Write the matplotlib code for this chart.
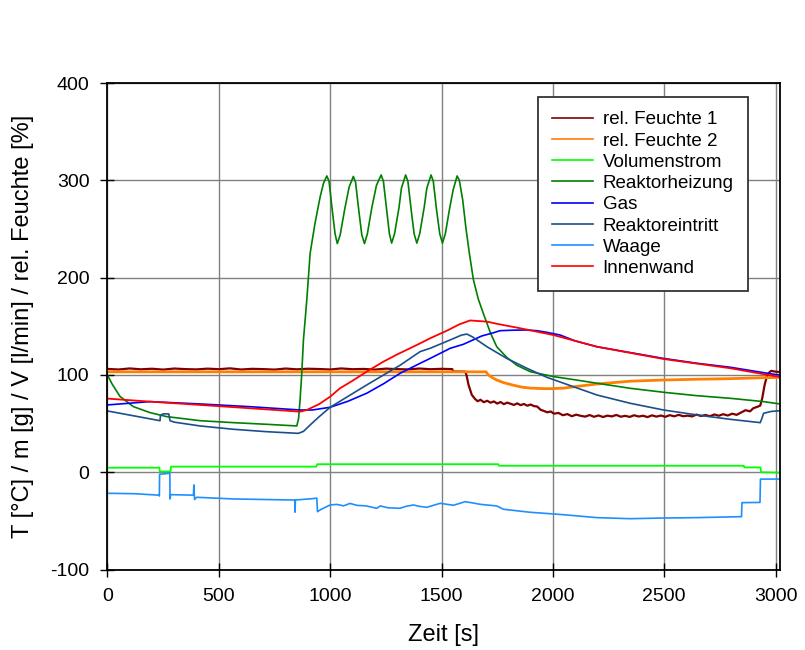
import matplotlib.pyplot as plt

plt.rcParams['font.family'] = ['Liberation Sans', 'DejaVu Sans']
plt.rcParams['axes.unicode_minus'] = False

# rel. Feuchte 1 [%]
t_rf1 = [0, 50, 100, 150, 200, 250, 300, 350, 400, 450, 500, 550, 600, 650, 700, 750,
         800, 850, 900, 950, 1000, 1050, 1100, 1150, 1200, 1250, 1300, 1350, 1400, 1450,
         1500, 1548, 1552, 1606, 1612, 1621, 1636, 1650, 1662, 1675, 1690, 1705, 1720, 1735,
         1750, 1765, 1780, 1795, 1810, 1825, 1840, 1855, 1870, 1885, 1900, 1915, 1930, 1945,
         1960, 1975, 1990, 2005, 2025, 2045, 2065, 2085, 2105, 2125, 2145, 2165, 2185, 2205,
         2225, 2245, 2265, 2285, 2305, 2325, 2345, 2365, 2385, 2405, 2425, 2445, 2465, 2485,
         2505, 2525, 2545, 2565, 2585, 2605, 2625, 2645, 2665, 2685, 2705, 2725, 2745, 2765,
         2785, 2805, 2825, 2845, 2865, 2885, 2900, 2915, 2931, 2940, 2950, 2960, 2969, 2980,
         3000, 3020]
rf1 = [106.2, 105.6, 106.7, 105.8, 106.4, 105.5, 106.6, 106.0, 105.7, 106.5, 105.9, 106.8,
       105.6, 106.3, 106.0, 105.5, 106.6, 105.8, 106.4, 106.1, 105.6, 106.7, 105.9, 106.2,
       105.5, 106.5, 106.0, 105.7, 106.6, 105.9, 106.3, 106.0, 103.6, 103.4, 100.0, 90.0,
       79.5, 75.5, 73.0, 74.5, 72.0, 73.5, 71.5, 72.8, 70.6, 72.2, 70.0, 71.6, 70.4, 69.2,
       70.8, 69.0, 70.2, 68.4, 69.6, 68.0, 67.5, 64.2, 63.0, 61.6, 62.5, 60.2, 61.0, 58.6,
       59.8, 57.6, 59.2, 58.0, 57.2, 58.8, 57.0, 58.4, 56.8, 58.2, 57.4, 58.9, 57.1, 58.0,
       56.9, 58.6, 57.3, 58.1, 56.7, 58.5, 57.2, 58.3, 57.0, 58.7, 57.5, 59.0, 57.6, 58.2,
       57.4, 59.3, 57.8, 58.9, 57.6, 59.4, 58.1, 59.7, 58.3, 60.2, 59.0, 61.4, 63.8, 62.6,
       65.8, 67.0, 68.5, 76.0, 89.0, 98.0, 102.0, 104.2, 103.4, 103.0]

# rel. Feuchte 2 [%]
t_rf2 = [0, 1700, 1710, 1730, 1748, 1780, 1822, 1860, 1900, 1950, 1990, 2050, 2100, 2198,
         2347, 2497, 2647, 2797, 2946, 3020]
rf2 = [103.2, 103.2, 100.0, 97.0, 94.8, 92.0, 89.5, 87.5, 86.5, 86.0, 85.9, 86.5, 88.0,
       90.7, 93.6, 94.8, 95.6, 96.2, 97.2, 97.5]

# Volumenstrom [l/min]
t_vol = [0, 233, 235, 283, 285, 938, 942, 1755, 1758, 2857, 2860, 2932, 2935, 3020]
vol = [4.7, 4.7, 0.8, 0.8, 5.8, 5.8, 8.3, 8.3, 6.7, 6.7, 5.0, 5.0, 0.0, -0.4]

# Reaktorheizung [°C]
t_heiz = [0, 20, 56, 116, 191, 266, 416, 565, 715, 850, 858, 865, 872, 880, 895, 910,
          932, 955, 970, 985, 995, 1010, 1022, 1032, 1045, 1065, 1085, 1104, 1114, 1129,
          1142, 1154, 1167, 1187, 1208, 1229, 1239, 1254, 1266, 1276, 1289, 1309, 1320,
          1339, 1349, 1364, 1377, 1389, 1402, 1422, 1434, 1453, 1463, 1478, 1492, 1504,
          1517, 1537, 1552, 1570, 1580, 1595, 1610, 1625, 1643, 1665, 1688, 1720, 1748,
          1793, 1838, 1898, 2003, 2100, 2198, 2347, 2497, 2647, 2797, 2946, 3020]
heiz = [100, 91, 78, 67.5, 61.3, 57.2, 53.0, 51.0, 49.3, 47.6, 55, 75, 100, 136, 177, 225,
        256, 283, 297, 304.5, 299, 268, 245, 235, 244, 270, 293, 304, 298, 268, 244, 235,
        245, 272, 295, 305.5, 299, 269, 245, 235.5, 245, 272, 292, 305.5, 299, 269, 245,
        235.5, 245, 272, 292, 305.5, 299, 269, 245, 235.5, 245, 272, 290, 304.5, 300, 280,
        250, 225, 198, 178, 163, 143, 129, 118, 110, 103.4, 98.3, 95, 91.5, 86.3, 82.2, 78.7,
        76.0, 72.6, 70.2]

# Gas [°C]
t_gas = [0, 191, 416, 640, 865, 920, 1000, 1080, 1164, 1240, 1314, 1404, 1449, 1539, 1598,
         1680, 1735, 1763, 1822, 1883, 1928, 1973, 2033, 2100, 2198, 2347, 2497, 2647, 2797,
         2991, 3020]
gas = [69.2, 72.6, 70.2, 67.4, 64.0, 64.0, 66.8, 73.0, 81.2, 91.0, 101.7, 112.0, 117.0,
       127.4, 131.5, 140.0, 143.5, 145.5, 146.0, 146.2, 145.5, 143.8, 141.0, 135.0, 129.0,
       123.0, 117.0, 112.0, 107.9, 100.7, 100.0]

# Reaktoreintritt [°C]
t_ein = [0, 236, 238, 250, 275, 281, 300, 416, 565, 715, 857, 880, 910, 950, 1000, 1080,
         1164, 1240, 1314, 1404, 1449, 1539, 1590, 1614, 1640, 1704, 1793, 1883, 1973, 2048,
         2198, 2347, 2497, 2647, 2797, 2931, 2938, 2946, 2980, 3020]
ein = [63.0, 53.0, 58.5, 60.0, 60.0, 53.0, 51.5, 47.6, 44.2, 41.7, 40.0, 42.0, 48.6, 57.0,
       66.8, 78.0, 89.7, 100.0, 110.0, 124.0, 127.4, 136.0, 141.0, 142.0, 139.0, 129.0,
       117.0, 106.9, 97.6, 91.5, 79.4, 70.9, 64.0, 58.9, 54.4, 51.0, 55.0, 60.6, 62.5, 63.3]

# Waage [g]
t_waage = [0, 120, 230, 233, 234, 250, 280, 281, 284, 386, 388, 391, 400, 565, 835, 841,
           842, 844, 925, 940, 943, 960, 1000, 1030, 1060, 1089, 1120, 1160, 1209, 1225,
           1260, 1314, 1340, 1374, 1400, 1434, 1494, 1554, 1606, 1640, 1673, 1748, 1778,
           1898, 2048, 2198, 2347, 2497, 2647, 2847, 2849, 2930, 2932, 3020]
waage = [-21.6, -22.0, -23.5, -24.4, -2.0, -1.7, -1.0, -27.5, -23.0, -23.5, -13.0, -28.0,
         -25.7, -27.4, -28.5, -28.5, -41.0, -28.5, -27.0, -26.5, -40.5, -38.0, -33.6, -33.0,
         -34.5, -32.0, -34.0, -34.5, -37.0, -34.6, -36.5, -37.0, -35.0, -33.6, -35.0, -36.0,
         -31.9, -33.9, -30.2, -31.5, -32.9, -34.6, -38.0, -41.1, -43.6, -46.6, -47.7, -47.0,
         -46.6, -45.6, -31.2, -31.0, -7.0, -7.0]

# Innenwand [°C]
t_wand = [0, 191, 416, 640, 865, 895, 950, 1000, 1044, 1100, 1164, 1239, 1300, 1389, 1404,
          1449, 1524, 1580, 1628, 1704, 1750, 1853, 2003, 2198, 2497, 2797, 2991, 3020]
wand = [75.7, 72.6, 69.2, 65.8, 62.3, 64.0, 70.0, 77.7, 86.3, 94.0, 103.4, 113.7, 121.0,
        130.8, 132.5, 137.7, 145.5, 152.0, 156.0, 154.8, 152.5, 148.0, 141.0, 129.0, 116.4,
        106.9, 99.0, 98.0]

fig = plt.figure(figsize=(8.05, 6.5), dpi=100)
ax = fig.add_axes([0.1335, 0.1237, 0.8355, 0.7486])

ax.plot(t_rf1, rf1, color='#800000', lw=1.6, label='rel. Feuchte 1')
ax.plot(t_rf2, rf2, color='#FF8000', lw=2.0, label='rel. Feuchte 2')
ax.plot(t_vol, vol, color='#00FF00', lw=1.3, label='Volumenstrom')
ax.plot(t_heiz, heiz, color='#008000', lw=1.2, label='Reaktorheizung')
ax.plot(t_gas, gas, color='#0000FF', lw=1.2, label='Gas')
ax.plot(t_ein, ein, color='#1A4F8B', lw=1.2, label='Reaktoreintritt')
ax.plot(t_waage, waage, color='#1E8FFF', lw=1.2, label='Waage')
ax.plot(t_wand, wand, color='#FF0000', lw=1.3, label='Innenwand')

ax.set_xlim(0, 3020)
ax.set_ylim(-100, 400)
ax.set_xticks(range(0, 3001, 500))
ax.set_yticks(range(-100, 401, 100))
ax.grid(True, color='#808080', lw=1.0)
ax.set_axisbelow(True)
ax.tick_params(direction='inout', length=10, width=1.0, labelsize=14, pad=8)
for sp in ax.spines.values():
    sp.set_linewidth(1.3)

ax.set_xlabel('Zeit [s]', fontsize=17, labelpad=14)
ax.set_ylabel('T [°C] / m [g] / V [l/min] / rel. Feuchte [%]', fontsize=17, labelpad=12)

leg = ax.legend(loc='upper right', bbox_to_anchor=(0.952, 0.971), borderaxespad=0,
                fontsize=13.5, fancybox=False, framealpha=1, edgecolor='#333333',
                handlelength=2.2, handletextpad=0.5, labelspacing=0.22, borderpad=0.75)
leg.get_frame().set_linewidth(1.3)
for line in leg.get_lines():
    line.set_linewidth(1.2)

fig.savefig('out.png', dpi=100)
